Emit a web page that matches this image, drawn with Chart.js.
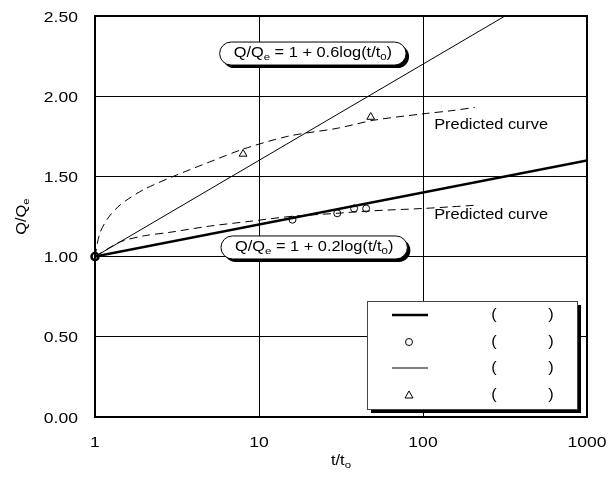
<!DOCTYPE html>
<html lang="en">
<head>
<meta charset="UTF-8">
<title>Q/Qe vs t/to</title>
<script src="https://cdn.jsdelivr.net/npm/chart.js"></script>
<style>
  body { margin: 0; background: white; }
  canvas { display: block; }
</style>
</head>
<body>
<canvas id="qChart" width="610" height="479"></canvas>
<script>
// axis ticks
const xTicks = [1, 10, 100, 1000];
const yTicks = [0, 0.5, 1.0, 1.5, 2.0, 2.5];

// straight fits (end points)
const fit06X = [1, 1000];
const fit06Y = [1.0, 2.8];
const fit02X = [1, 1000];
const fit02Y = [1.0, 1.6];

// predicted curves (dashed)
const predHighX = [1, 1.07, 1.2, 1.38, 1.6, 2, 3, 5, 8, 15, 30, 50, 100, 150, 207];
const predHighY = [1.0, 1.145, 1.24, 1.31, 1.36, 1.42, 1.50, 1.59, 1.67, 1.75, 1.80, 1.85, 1.89, 1.91, 1.93];
const predLowX = [1, 1.2, 1.45, 2, 2.8, 5, 8.8, 15.5, 30, 48, 100, 146, 207];
const predLowY = [1.0, 1.05, 1.095, 1.13, 1.15, 1.19, 1.22, 1.25, 1.27, 1.285, 1.30, 1.31, 1.32];

// measured points
const circleX = [1, 16, 30, 38, 45];
const circleY = [1.0, 1.23, 1.27, 1.30, 1.30];
const triangleX = [1, 8, 48];
const triangleY = [1.0, 1.64, 1.87];

const SX = 1.17;  // the original text is a bit wide
const FONT = "'Liberation Sans', Arial, sans-serif";

function zip(xs, ys) {
    return xs.map((x, i) => ({ x: x, y: ys[i] }));
}

function runsWidth(ctx, runs, size) {
    let w = 0;
    runs.forEach(([s, sub]) => {
        ctx.font = (sub ? size * 0.7 : size) + 'px ' + FONT;
        w += ctx.measureText(s).width;
    });
    return w;
}

// draws text made of normal / subscript runs
function drawRuns(ctx, runs, x, y, size, align) {
    ctx.save();
    ctx.translate(x, y);
    ctx.scale(SX, 1);
    const w = runsWidth(ctx, runs, size);
    let cx = align === 'center' ? -w / 2 : align === 'right' ? -w : 0;
    ctx.textBaseline = 'middle';
    ctx.textAlign = 'left';
    ctx.fillStyle = '#000';
    runs.forEach(([s, sub]) => {
        ctx.font = (sub ? size * 0.7 : size) + 'px ' + FONT;
        ctx.fillText(s, cx, sub ? size * 0.3 : 0);
        cx += ctx.measureText(s).width;
    });
    ctx.restore();
}

function pill(ctx, x0, y0, x1, y1) {
    const r = (y1 - y0) / 2;
    ctx.beginPath();
    ctx.moveTo(x0 + r, y0);
    ctx.lineTo(x1 - r, y0);
    ctx.arc(x1 - r, y0 + r, r, -Math.PI / 2, Math.PI / 2);
    ctx.lineTo(x0 + r, y1);
    ctx.arc(x0 + r, y0 + r, r, Math.PI / 2, 3 * Math.PI / 2);
    ctx.closePath();
}

const callouts = [
    { runs: [['Q/Q'], ['e', 1], [' = 1 + 0.6log(t/t'], ['0', 1], [')']], x: 21.3, y: 2.266 },
    { runs: [['Q/Q'], ['e', 1], [' = 1 + 0.2log(t/t'], ['0', 1], [')']], x: 21.7, y: 1.057 }
];
const curveLabels = [
    { text: 'Predicted curve', x: 117, y: 1.82 },
    { text: 'Predicted curve', x: 117, y: 1.26 }
];

const decor = {
    id: 'decor',
    afterDatasetsDraw(chart) {
        const ctx = chart.ctx;
        const a = chart.chartArea;
        const xs = chart.scales.x, ys = chart.scales.y;

        // plot frame
        ctx.save();
        ctx.strokeStyle = '#000';
        ctx.lineWidth = 2;
        ctx.strokeRect(a.left, a.top, a.right - a.left, a.bottom - a.top);
        ctx.restore();

        curveLabels.forEach(l => {
            drawRuns(ctx, [[l.text]], xs.getPixelForValue(l.x), ys.getPixelForValue(l.y), 14, 'left');
        });

        // equation callouts
        callouts.forEach(c => {
            const cx = xs.getPixelForValue(c.x), cy = ys.getPixelForValue(c.y);
            const w = runsWidth(ctx, c.runs, 14) * SX + 28, h = 23;
            ctx.save();
            ctx.fillStyle = '#000';
            pill(ctx, cx - w / 2 + 3, cy - h / 2 + 3, cx + w / 2 + 3, cy + h / 2 + 3);
            ctx.fill();
            ctx.fillStyle = '#fff';
            ctx.strokeStyle = '#000';
            ctx.lineWidth = 1;
            pill(ctx, cx - w / 2, cy - h / 2, cx + w / 2, cy + h / 2);
            ctx.fill();
            ctx.stroke();
            ctx.restore();
            drawRuns(ctx, c.runs, cx, cy, 14, 'center');
        });

        // legend box
        const bw = 210, bh = 108;
        const bx = a.right - 10 - bw, by = a.bottom - 8 - bh;
        ctx.save();
        ctx.fillStyle = '#000';
        ctx.fillRect(bx + 4, by + 4, bw, bh);
        ctx.fillStyle = '#fff';
        ctx.fillRect(bx, by, bw, bh);
        ctx.strokeStyle = '#444';
        ctx.lineWidth = 1;
        ctx.strokeRect(bx + 0.5, by + 0.5, bw, bh);
        const rows = [by + 14, by + 41, by + 67, by + 94];
        ctx.strokeStyle = '#000';
        ctx.lineWidth = 2.5;
        ctx.beginPath(); ctx.moveTo(bx + 25, rows[0]); ctx.lineTo(bx + 61, rows[0]); ctx.stroke();
        ctx.lineWidth = 1;
        ctx.beginPath(); ctx.moveTo(bx + 25, rows[2]); ctx.lineTo(bx + 61, rows[2]); ctx.stroke();
        ctx.beginPath(); ctx.arc(bx + 42, rows[1], 3.5, 0, Math.PI * 2); ctx.stroke();
        ctx.beginPath();
        ctx.moveTo(bx + 42, rows[3] - 4); ctx.lineTo(bx + 46, rows[3] + 3); ctx.lineTo(bx + 38, rows[3] + 3);
        ctx.closePath(); ctx.stroke();
        ctx.restore();
        rows.forEach(ry => {
            drawRuns(ctx, [['(']], bx + 127, ry, 14, 'center');
            drawRuns(ctx, [[')']], bx + 184, ry, 14, 'center');
        });
    },
    afterDraw(chart) {
        const ctx = chart.ctx;
        const a = chart.chartArea;
        const xs = chart.scales.x, ys = chart.scales.y;
        yTicks.forEach(v => {
            drawRuns(ctx, [[v.toFixed(2)]], a.left - 17, ys.getPixelForValue(v) + 1.5, 15, 'right');
        });
        xTicks.forEach(v => {
            drawRuns(ctx, [[String(v)]], xs.getPixelForValue(v), a.bottom + 26, 15, 'center');
        });
        drawRuns(ctx, [['t/t'], ['o', 1]], (a.left + a.right) / 2, a.bottom + 44, 14, 'center');
        ctx.save();
        ctx.translate(22, (a.top + a.bottom) / 2);
        ctx.rotate(-Math.PI / 2);
        drawRuns(ctx, [['Q/Q'], ['e', 1]], 0, 0, 14, 'center');
        ctx.restore();
    }
};

const ctx = document.getElementById('qChart').getContext('2d');

// the marker at t/t0 = 1 looks like a solid blob in the original
const originBold = c => (c.raw && c.raw.x === 1 ? 2.5 : 1);

new Chart(ctx, {
    type: 'scatter',
    data: {
        datasets: [
            {
                data: zip(fit02X, fit02Y), showLine: true, borderColor: '#000',
                borderWidth: 2.5, pointRadius: 0
            },
            {
                data: zip(fit06X, fit06Y), showLine: true, borderColor: '#000',
                borderWidth: 1, pointRadius: 0
            },
            {
                data: zip(predHighX, predHighY), showLine: true, borderColor: '#000',
                borderWidth: 1, borderDash: [8, 5], pointRadius: 0, tension: 0.3
            },
            {
                data: zip(predLowX, predLowY), showLine: true, borderColor: '#000',
                borderWidth: 1, borderDash: [8, 5], pointRadius: 0, tension: 0.3
            },
            {
                data: zip(circleX, circleY), pointStyle: 'circle', pointRadius: 3.5,
                pointBackgroundColor: '#fff', pointBorderColor: '#000', pointBorderWidth: originBold,
                clip: false
            },
            {
                data: zip(triangleX, triangleY), pointStyle: 'triangle', pointRadius: 4.5,
                pointBackgroundColor: '#fff', pointBorderColor: '#000', pointBorderWidth: 1,
                clip: false
            }
        ]
    },
    options: {
        responsive: false,
        animation: false,
        layout: { padding: { left: 95, top: 16, right: 23, bottom: 62 } },
        plugins: {
            legend: { display: false },
            tooltip: { enabled: false }
        },
        scales: {
            x: {
                type: 'logarithmic', min: 1, max: 1000,
                afterBuildTicks: s => { s.ticks = xTicks.map(v => ({ value: v })); },
                afterFit: s => { s.height = 0; },
                ticks: { display: false },
                grid: { color: '#000', lineWidth: 1, drawTicks: false },
                border: { display: false }
            },
            y: {
                min: 0, max: 2.5,
                afterBuildTicks: s => { s.ticks = yTicks.map(v => ({ value: v })); },
                afterFit: s => { s.width = 0; },
                ticks: { display: false },
                grid: { color: '#000', lineWidth: 1, drawTicks: false },
                border: { display: false }
            }
        }
    },
    plugins: [decor]
});
</script>
</body>
</html>
